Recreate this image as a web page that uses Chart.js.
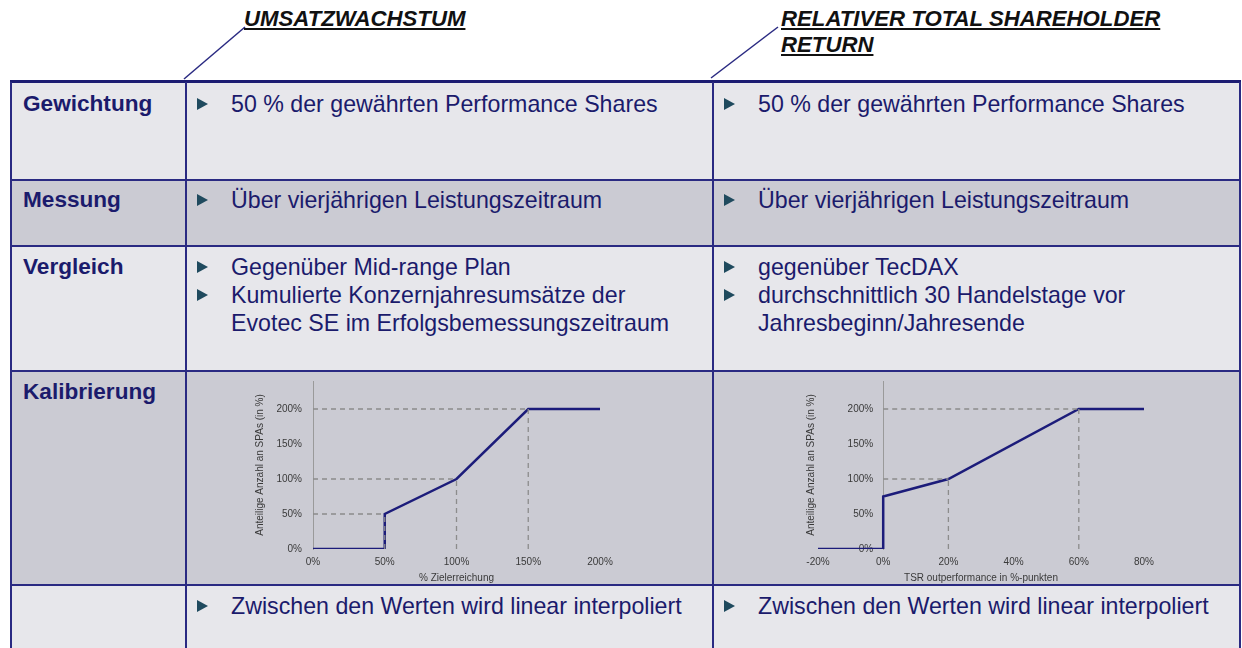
<!DOCTYPE html>
<html><head><meta charset="utf-8">
<script src="https://cdn.jsdelivr.net/npm/chart.js@4.4.1/dist/chart.umd.min.js"></script>
<style>
html,body{margin:0;padding:0;background:#fff;width:1242px;height:648px;overflow:hidden;font-family:"Liberation Sans",Arial,sans-serif;}
.a{position:absolute;}
.bgL{background:#e7e7eb;}
.bgD{background:#cbcbd3;}
.hl{position:absolute;left:10px;width:1231px;height:2px;background:#2a2a82;}
.vl{position:absolute;top:82px;width:2px;height:566px;background:#2a2a82;}
.lab{position:absolute;left:23px;font-weight:bold;font-size:22.6px;line-height:28px;color:#1b1b6c;white-space:nowrap;}
.txt{position:absolute;font-size:23.2px;line-height:28px;color:#1b1b6c;white-space:nowrap;}
.bul{position:absolute;width:0;height:0;border-top:6px solid transparent;border-bottom:6px solid transparent;border-left:11px solid #1f4a5e;}
.head{position:absolute;font-weight:bold;font-style:italic;text-decoration:underline;font-size:22.2px;line-height:26px;color:#111;white-space:nowrap;}
</style></head>
<body>
<svg class="a" style="left:0;top:0" width="1242" height="100">
<line x1="184" y1="79" x2="245" y2="27" stroke="#2a2a82" stroke-width="1.5"/>
<line x1="711" y1="78" x2="778" y2="27" stroke="#2a2a82" stroke-width="1.5"/>
</svg>
<div class="head" style="left:244px;top:6px;">UMSATZWACHSTUM</div>
<div class="head" style="left:781px;top:6px;">RELATIVER TOTAL SHAREHOLDER<br>RETURN</div>

<div class="a bgL" style="left:10px;top:82px;width:1230px;height:98px;"></div>
<div class="a bgD" style="left:10px;top:180px;width:1230px;height:66px;"></div>
<div class="a bgL" style="left:10px;top:246px;width:1230px;height:125px;"></div>
<div class="a bgD" style="left:10px;top:371px;width:1230px;height:214px;"></div>
<div class="a bgL" style="left:10px;top:585px;width:1230px;height:63px;"></div>

<div class="hl" style="top:80px;height:3px;background:#1c1c72;"></div>
<div class="hl" style="top:179px;"></div>
<div class="hl" style="top:245px;"></div>
<div class="hl" style="top:370px;"></div>
<div class="hl" style="top:584px;"></div>
<div class="vl" style="left:10px;"></div>
<div class="vl" style="left:185px;"></div>
<div class="vl" style="left:712px;"></div>
<div class="vl" style="left:1239px;"></div>

<div class="lab" style="top:90px;">Gewichtung</div>
<div class="lab" style="top:186px;">Messung</div>
<div class="lab" style="top:253px;">Vergleich</div>
<div class="lab" style="top:378px;">Kalibrierung</div>

<div class="bul" style="left:197px;top:98px;"></div>
<div class="txt" style="left:231px;top:90px;">50 % der gewährten Performance Shares</div>
<div class="bul" style="left:724px;top:98px;"></div>
<div class="txt" style="left:758px;top:90px;">50 % der gewährten Performance Shares</div>

<div class="bul" style="left:197px;top:194px;"></div>
<div class="txt" style="left:231px;top:186px;">Über vierjährigen Leistungszeitraum</div>
<div class="bul" style="left:724px;top:194px;"></div>
<div class="txt" style="left:758px;top:186px;">Über vierjährigen Leistungszeitraum</div>

<div class="bul" style="left:197px;top:261px;"></div>
<div class="bul" style="left:197px;top:289px;"></div>
<div class="txt" style="left:231px;top:253px;">Gegenüber Mid-range Plan<br>Kumulierte Konzernjahresumsätze der<br>Evotec SE im Erfolgsbemessungszeitraum</div>
<div class="bul" style="left:724px;top:261px;"></div>
<div class="bul" style="left:724px;top:289px;"></div>
<div class="txt" style="left:758px;top:253px;">gegenüber TecDAX<br>durchschnittlich 30 Handelstage vor<br>Jahresbeginn/Jahresende</div>

<div class="bul" style="left:197px;top:600px;"></div>
<div class="txt" style="left:231px;top:592px;">Zwischen den Werten wird linear interpoliert</div>
<div class="bul" style="left:724px;top:600px;"></div>
<div class="txt" style="left:758px;top:592px;">Zwischen den Werten wird linear interpoliert</div>

<canvas id="c1" class="a" style="left:250px;top:372px;" width="455" height="212"></canvas>
<canvas id="c2" class="a" style="left:720px;top:372px;" width="515" height="212"></canvas>

<script>
// ---- Chart 1: Umsatzwachstum ----
const x1 = [0, 50, 50, 100, 150, 200];
const y1 = [0, 0, 50, 100, 200, 200];
const guideLevels1 = [50, 100, 200];   // y levels of dashed guides
const guideEnds1   = [50, 100, 150];   // x where they meet the curve
const xTicks1 = {min: 0, max: 200, step: 50};
const yTitle = 'Anteilige Anzahl an SPAs (in %)';
const xTitle1 = '% Zielerreichung';

// ---- Chart 2: Relativer TSR ----
const x2 = [-20, 0, 0, 20, 60, 80];
const y2 = [0, 0, 75, 100, 200, 200];
const guideLevels2 = [100, 200];
const guideEnds2   = [20, 60];
const xTicks2 = {min: -20, max: 80, step: 20};
const xTitle2 = 'TSR outperformance in %-punkten';

const yRange = {min: 0, max: 240, step: 50};

const NAVY = '#1c1c7a';
const GUIDE = '#8c8c8c';
const TICKC = '#3a3a3a';
const FONT = '"Liberation Sans", Arial, sans-serif';
Chart.defaults.font.family = FONT;

function curve(xs, ys) { return xs.map((x, i) => ({x: x, y: ys[i]})); }
function guides(levels, ends) {
  const out = [];
  levels.forEach((lv, i) => {
    const e = ends[i];
    out.push([{x: 0, y: lv}, {x: e, y: lv}]);
    out.push([{x: e, y: 0}, {x: e, y: lv}]);
  });
  return out.map(d => ({data: d, borderColor: GUIDE, borderWidth: 1.3, borderDash: [5, 4], pointRadius: 0, order: 0}));
}

function xScale(t, title) {
  return {
    type: 'linear', min: t.min, max: t.max,
    grid: {display: false, drawTicks: false},
    border: {display: false},
    ticks: {stepSize: t.step, padding: 7, color: TICKC, font: {size: 10}, callback: v => v + '%', maxRotation: 0},
    title: {display: true, text: title, color: TICKC, font: {size: 10}, padding: {top: 2, bottom: 0}},
    afterFit: s => { s.height = 35; }
  };
}

const yTitlePlugin = {
  id: 'yTitleDraw',
  afterDraw(chart, args, opts) {
    if (!opts || !opts.text) return;
    const ctx = chart.ctx, ca = chart.chartArea;
    ctx.save();
    ctx.translate(opts.x, (ca.top + ca.bottom) / 2);
    ctx.rotate(-Math.PI / 2);
    ctx.font = '10px ' + FONT;
    ctx.fillStyle = TICKC;
    ctx.textAlign = 'center';
    ctx.textBaseline = 'middle';
    ctx.fillText(opts.text, 0, 0);
    ctx.restore();
  }
};

const common = {
  responsive: false, animation: false, devicePixelRatio: 1,
  plugins: {legend: {display: false}, tooltip: {enabled: false}}
};

new Chart(document.getElementById('c1'), {
  type: 'line',
  data: {datasets: [
    {data: curve(x1, y1), borderColor: NAVY, borderWidth: 2.5, pointRadius: 0, tension: 0, order: 1},
    ...guides(guideLevels1, guideEnds1)
  ]},
  options: Object.assign({}, common, {
    layout: {padding: {left: 0, right: 105, top: 8, bottom: 0}},
    scales: {
      x: xScale(xTicks1, xTitle1),
      y: {
        min: yRange.min, max: yRange.max,
        grid: {display: false},
        border: {display: true, color: '#9a9a9a', width: 1},
        ticks: {stepSize: yRange.step, includeBounds: false, padding: 3, color: TICKC, font: {size: 10}, callback: v => v + '%'},
        title: {display: true, text: yTitle, color: TICKC, font: {size: 10}, padding: {top: 4, bottom: 0}},
        afterFit: s => { s.width = 63; }
      }
    }
  })
});

new Chart(document.getElementById('c2'), {
  type: 'line',
  data: {datasets: [
    {data: curve(x2, y2), borderColor: NAVY, borderWidth: 2.5, pointRadius: 0, tension: 0, order: 1},
    ...guides(guideLevels2, guideEnds2)
  ]},
  plugins: [yTitlePlugin],
  options: Object.assign({}, common, {
    plugins: {legend: {display: false}, tooltip: {enabled: false}, yTitleDraw: {text: yTitle, x: 91}},
    layout: {padding: {left: 98, right: 91, top: 8, bottom: 0}},
    scales: {
      x: xScale(xTicks2, xTitle2),
      y: {
        position: {x: 0},
        min: yRange.min, max: yRange.max,
        grid: {display: false},
        border: {display: true, color: '#9a9a9a', width: 1},
        ticks: {stepSize: yRange.step, includeBounds: false, padding: 3, color: TICKC, font: {size: 10}, callback: v => v + '%\u2002\u2002'},
        title: {display: false}
      }
    }
  })
});
</script>
</body></html>
